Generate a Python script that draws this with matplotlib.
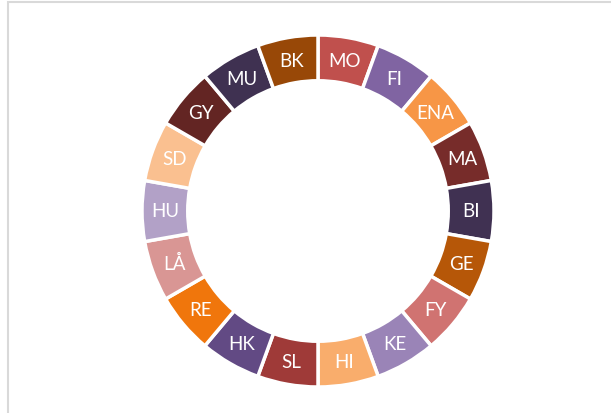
import numpy as np
import matplotlib.pyplot as plt
from matplotlib.patches import Rectangle

# segmenter, medurs från klockan 12
etiketter = ['MO', 'FI', 'ENA', 'MA', 'BI', 'GE', 'FY', 'KE', 'HI',
             'SL', 'HK', 'RE', 'LÅ', 'HU', 'SD', 'GY', 'MU', 'BK']
andelar = [1] * len(etiketter)
farger = ['#C0504D', '#8064A2', '#F79646', '#772C2A', '#403152', '#B65708',
          '#D07371', '#9A84B7', '#F9AD6C', '#9F3A38', '#624A84', '#F0760C',
          '#D99694', '#B2A1C7', '#FAC090', '#632523', '#3F3151', '#984807']

plt.rcParams['font.family'] = ['Lato', 'DejaVu Sans']

fig = plt.figure(figsize=(6.11, 4.14), dpi=100)
ax = fig.add_axes([0, 0, 1, 1])

R = 176.0
cx, cy = 318.0, 212.0

wedges, _ = ax.pie(andelar, colors=farger, startangle=90, counterclock=False,
                   radius=1.0, wedgeprops=dict(width=0.26, edgecolor='white', linewidth=2.5))

for w, txt in zip(wedges, etiketter):
    mitt = np.deg2rad((w.theta1 + w.theta2) / 2)
    ax.text(0.87 * np.cos(mitt), 0.87 * np.sin(mitt), txt, color='white',
            fontsize=13.5, ha='center', va='center')

ax.set_xlim(-cx / R, (611 - cx) / R)
ax.set_ylim(-(414 - cy) / R, cy / R)
ax.set_aspect('equal')
ax.axis('off')

# ram runt diagramytan
fig.patches.append(Rectangle((8 / 611, -0.1), 1.2, 1.1 - 3 / 414, transform=fig.transFigure,
                             fill=False, edgecolor='#D9D9D9', linewidth=1.5))

fig.savefig('out.png', dpi=100)
